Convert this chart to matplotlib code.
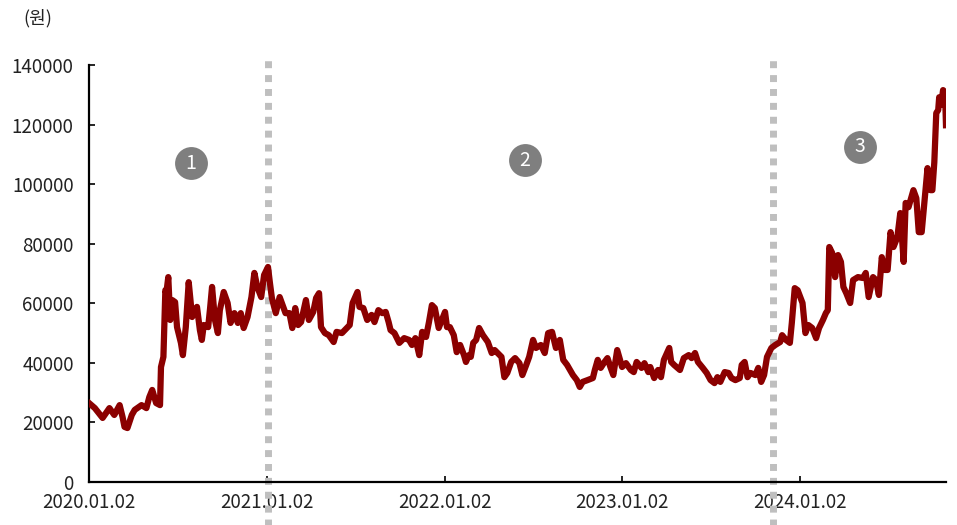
import pandas as pd
import matplotlib.pyplot as plt

plt.rcParams['font.family'] = ['Noto Sans CJK KR', 'DejaVu Sans']

# daily closing price (won)
dates = [
    "2020-01-02", "2020-01-14", "2020-01-30", "2020-02-13", "2020-02-23", "2020-03-05",
    "2020-03-11", "2020-03-15", "2020-03-21", "2020-03-30", "2020-04-05", "2020-04-19",
    "2020-04-29", "2020-05-05", "2020-05-11", "2020-05-19", "2020-05-27", "2020-05-29",
    "2020-06-03", "2020-06-07", "2020-06-09", "2020-06-13", "2020-06-17", "2020-06-21",
    "2020-06-27", "2020-07-01", "2020-07-09", "2020-07-13", "2020-07-19", "2020-07-25",
    "2020-08-01", "2020-08-11", "2020-08-17", "2020-08-21", "2020-08-25", "2020-09-03",
    "2020-09-07", "2020-09-11", "2020-09-17", "2020-09-23", "2020-09-27", "2020-10-05",
    "2020-10-13", "2020-10-19", "2020-10-27", "2020-11-03", "2020-11-09", "2020-11-15",
    "2020-11-23", "2020-12-01", "2020-12-07", "2020-12-13", "2020-12-21", "2020-12-27",
    "2021-01-04", "2021-01-08", "2021-01-12", "2021-01-20", "2021-01-28", "2021-02-03",
    "2021-02-09", "2021-02-17", "2021-02-23", "2021-03-01", "2021-03-07", "2021-03-13",
    "2021-03-23", "2021-03-29", "2021-04-07", "2021-04-13", "2021-04-19", "2021-04-23",
    "2021-05-01", "2021-05-09", "2021-05-19", "2021-05-25", "2021-06-05", "2021-06-15",
    "2021-06-21", "2021-06-27", "2021-07-07", "2021-07-11", "2021-07-19", "2021-07-27",
    "2021-08-05", "2021-08-11", "2021-08-19", "2021-08-27", "2021-09-03", "2021-09-09",
    "2021-09-13", "2021-09-21", "2021-10-01", "2021-10-11", "2021-10-21", "2021-10-27",
    "2021-11-03", "2021-11-11", "2021-11-17", "2021-11-25", "2021-12-01", "2021-12-07",
    "2021-12-13", "2021-12-21", "2022-01-03", "2022-01-07", "2022-01-13", "2022-01-21",
    "2022-01-27", "2022-02-03", "2022-02-11", "2022-02-15", "2022-02-21", "2022-02-25",
    "2022-03-02", "2022-03-08", "2022-03-14", "2022-03-22", "2022-04-01", "2022-04-09",
    "2022-04-15", "2022-04-21", "2022-04-29", "2022-05-05", "2022-05-11", "2022-05-19",
    "2022-05-27", "2022-06-05", "2022-06-11", "2022-06-19", "2022-06-25", "2022-07-03",
    "2022-07-09", "2022-07-19", "2022-07-27", "2022-08-03", "2022-08-11", "2022-08-19",
    "2022-08-27", "2022-09-03", "2022-09-11", "2022-09-17", "2022-09-23", "2022-10-01",
    "2022-10-07", "2022-10-13", "2022-10-23", "2022-11-03", "2022-11-07", "2022-11-13",
    "2022-11-19", "2022-11-27", "2022-12-03", "2022-12-09", "2022-12-15", "2022-12-23",
    "2023-01-02", "2023-01-10", "2023-01-20", "2023-01-26", "2023-02-01", "2023-02-11",
    "2023-02-17", "2023-02-25", "2023-03-01", "2023-03-09", "2023-03-17", "2023-03-23",
    "2023-03-29", "2023-04-09", "2023-04-13", "2023-04-19", "2023-05-01", "2023-05-09",
    "2023-05-19", "2023-05-25", "2023-06-01", "2023-06-07", "2023-06-17", "2023-06-25",
    "2023-07-03", "2023-07-11", "2023-07-17", "2023-07-23", "2023-08-01", "2023-08-09",
    "2023-08-15", "2023-08-23", "2023-09-01", "2023-09-05", "2023-09-11", "2023-09-17",
    "2023-09-23", "2023-10-03", "2023-10-09", "2023-10-15", "2023-10-21", "2023-10-27",
    "2023-11-05", "2023-11-13", "2023-11-23", "2023-11-27", "2023-12-05", "2023-12-13",
    "2023-12-17", "2023-12-23", "2023-12-29", "2024-01-08", "2024-01-14", "2024-01-20",
    "2024-01-28", "2024-02-05", "2024-02-11", "2024-02-19", "2024-02-25", "2024-02-29",
    "2024-03-03", "2024-03-09", "2024-03-15", "2024-03-21", "2024-03-27", "2024-04-01",
    "2024-04-07", "2024-04-15", "2024-04-21", "2024-05-01", "2024-05-11", "2024-05-17",
    "2024-05-23", "2024-06-01", "2024-06-07", "2024-06-13", "2024-06-19", "2024-06-25",
    "2024-07-01", "2024-07-07", "2024-07-13", "2024-07-21", "2024-07-27", "2024-08-03",
    "2024-08-07", "2024-08-13", "2024-08-23", "2024-08-29", "2024-09-03", "2024-09-09",
    "2024-09-17", "2024-09-21", "2024-09-27", "2024-10-01", "2024-10-05", "2024-10-09",
    "2024-10-13", "2024-10-15", "2024-10-19", "2024-10-23", "2024-10-27", "2024-10-29",
]
prices = [
    26500, 24800, 21500, 24800, 22500, 25800,
    21800, 18500, 18100, 22500, 24200, 25800,
    24800, 28500, 30900, 26500, 25800, 38600,
    42000, 64400, 63400, 68800, 54400, 61100,
    60400, 52000, 46700, 42600, 52000, 67100,
    55400, 58800, 51000, 47700, 52700, 52000,
    58400, 65500, 54400, 50000, 57700, 63800,
    60100, 53400, 56700, 53400, 56700, 51700,
    55400, 62100, 70200, 65500, 62100, 69500,
    72200, 66800, 61800, 56700, 62100, 59400,
    56700, 56700, 51700, 58400, 52700, 53700,
    61100, 54400, 57100, 61800, 63400, 52000,
    50000, 49300, 47000, 50400, 50000, 51700,
    52700, 60100, 63800, 58800, 58400, 54400,
    56100, 53700, 57700, 56700, 57100, 53700,
    51000, 50000, 46700, 48300, 47700, 46000,
    48300, 42600, 50400, 48700, 53700, 59400,
    58400, 51700, 57100, 52000, 52000, 49300,
    43600, 46000, 42600, 40300, 42600, 42000,
    46700, 47700, 51700, 49300, 47000, 43300,
    44300, 43300, 42000, 35200, 36600, 40300,
    41600, 39900, 35900, 39300, 42000, 47700,
    45000, 46000, 43300, 50000, 50400, 45000,
    47700, 41000, 39300, 37600, 35900, 34200,
    31900, 33600, 34200, 34900, 37600, 41000,
    38300, 40300, 41600, 38600, 35900, 44300,
    38600, 39900, 37600, 36900, 40300, 38300,
    39900, 36900, 38600, 34900, 37600, 35200,
    41000, 45000, 40300, 39300, 37600, 41600,
    42600, 41600, 43300, 40300, 38300, 36600,
    34200, 33200, 35200, 33600, 36900, 36600,
    34900, 34200, 34900, 39300, 40300, 35200,
    36600, 35900, 38300, 33600, 35900, 42000,
    45000, 46000, 47000, 49300, 47700, 46700,
    53400, 65100, 64400, 60100, 50000, 52700,
    51700, 48300, 51700, 54400, 56700, 57700,
    78900, 76900, 68800, 76200, 73900, 65500,
    63400, 60100, 67800, 68800, 68500, 70200,
    62100, 68800, 67800, 62800, 75500, 71200,
    71200, 83900, 78900, 82200, 90300, 73900,
    93700, 92300, 98000, 95300, 83900, 83900,
    98000, 105400, 98000, 98000, 107400, 123900,
    124900, 129200, 126600, 131600, 130900, 119800,
]

tick_dates = ["2020-01-02", "2021-01-02", "2022-01-02", "2023-01-02", "2024-01-02"]
tick_labels = ["2020.01.02", "2021.01.02", "2022.01.02", "2023.01.02", "2024.01.02"]
phase_dates = ["2021-01-04", "2023-11-08"]
# circled phase markers: (label, date, height)
markers = [("1", "2020-07-30", 107000), ("2", "2022-06-16", 108000), ("3", "2024-05-05", 112500)]

x = pd.to_datetime(dates)

fig = plt.figure(figsize=(9.57, 5.25), dpi=100)
ax = fig.add_axes([0.093, 0.082, 0.8955, 0.794])

ax.plot(x, prices, color="#8B0000", lw=4.5, solid_joinstyle="round", zorder=3)

for d in phase_dates:
    ax.axvline(pd.Timestamp(d), ymin=-0.105, ymax=1.02, color="#BFBFBF", lw=5,
               linestyle=(0, (1, 1)), clip_on=False, zorder=2)

for label, d, h in markers:
    ax.scatter([pd.Timestamp(d)], [h], s=560, color="#7F7F7F", zorder=4, linewidths=0)
    ax.text(pd.Timestamp(d), h, label, color="white", fontsize=14,
            ha="center", va="center", zorder=5)

ax.set_xlim(pd.Timestamp("2020-01-02"), x[-1])
ax.set_ylim(0, 140000)
ax.set_yticks(range(0, 140001, 20000))
ax.set_yticklabels([str(v) for v in range(0, 140001, 20000)])
ax.set_xticks(pd.to_datetime(tick_dates))
ax.set_xticklabels(tick_labels)

for side in ["top", "right"]:
    ax.spines[side].set_visible(False)
for side in ["left", "bottom"]:
    ax.spines[side].set_linewidth(1.6)
    ax.spines[side].set_color("black")
ax.tick_params(axis="both", direction="in", length=4, width=1.2, labelsize=13.5,
               colors="black", labelcolor="#222222")
ax.tick_params(axis="y", pad=11)
ax.tick_params(axis="x", pad=7.5)

fig.text(38 / 957, 1 - 18 / 525, "(원)", fontsize=13, color="#222222",
         ha="center", va="center")

fig.savefig("out.png", dpi=100)
